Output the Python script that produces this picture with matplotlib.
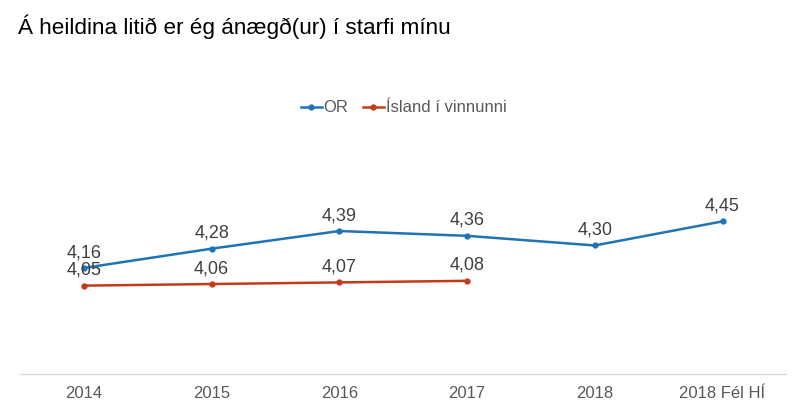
import matplotlib.pyplot as plt
import numpy as np

plt.rcParams['font.family'] = ['Liberation Sans', 'DejaVu Sans']

categories = ['2014', '2015', '2016', '2017', '2018', '2018 Fél HÍ']
or_values = [4.16, 4.28, 4.39, 4.36, 4.30, 4.45]
island_values = [4.05, 4.06, 4.07, 4.08]

blue = '#1f74b6'
red = '#c33b18'
grey = '#595959'

fig = plt.figure(figsize=(8, 4.17), dpi=100)
ax = fig.add_axes([0.025, 1 - 374 / 417, 0.958, 241 / 417])

x = np.arange(len(categories))
ax.plot(x, or_values, color=blue, lw=1.8, marker='o', ms=3.5, label='OR')
ax.plot(x[:len(island_values)], island_values, color=red, lw=1.8, marker='o', ms=3.5,
        label='Ísland í vinnunni')

for xi, v in zip(x, or_values):
    ax.annotate(f'{v:.2f}'.replace('.', ','), (xi, v), xytext=(0, 5), textcoords='offset points',
                ha='center', va='bottom', fontsize=13, color='#404040')
for xi, v in zip(x, island_values):
    ax.annotate(f'{v:.2f}'.replace('.', ','), (xi, v), xytext=(0, 5), textcoords='offset points',
                ha='center', va='bottom', fontsize=13, color='#404040')

ax.set_xlim(-0.5, len(categories) - 0.5)
ax.set_ylim(3.5, 5.0)
ax.set_xticks(x)
ax.set_xticklabels(categories, fontsize=12, color=grey)
ax.set_yticks([])
ax.tick_params(axis='x', length=0, pad=9)
for s in ['top', 'right', 'left']:
    ax.spines[s].set_visible(False)
ax.spines['bottom'].set_color('#d9d9d9')
ax.spines['bottom'].set_linewidth(1)

fig.legend(loc='center', bbox_to_anchor=(403.5 / 800, 1 - 108 / 417), ncol=2, frameon=False,
           fontsize=12, handlelength=1.25, handletextpad=0.1, columnspacing=0.9,
           borderpad=0, labelcolor=grey)

fig.text(0.022, 1 - 27 / 417, 'Á heildina litið er ég ánægð(ur) í starfi mínu',
         fontsize=16.2, va='center', ha='left', color='black')

fig.savefig('out.png', dpi=100)
